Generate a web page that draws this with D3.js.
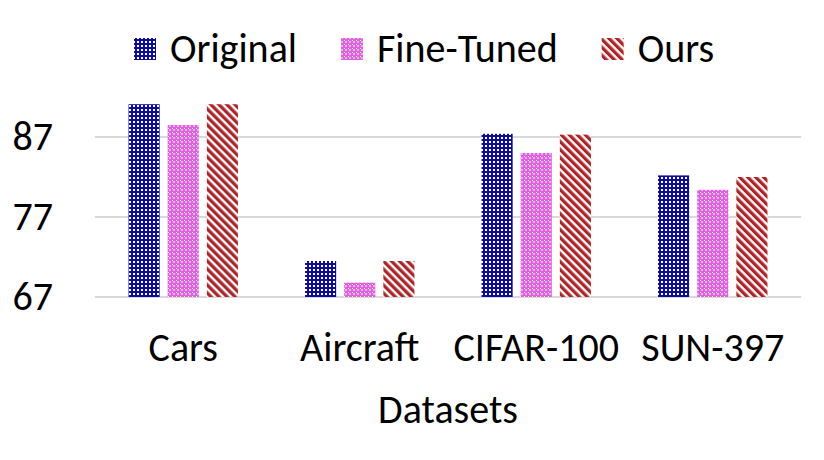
<!DOCTYPE html>
<html>
<head>
<meta charset="utf-8">
<script src="https://cdn.jsdelivr.net/npm/d3@7"></script>
<style>
  html, body { margin: 0; padding: 0; background: #fff; }
  text { font-family: Calibri, Carlito, 'Open Sans', sans-serif; fill: #000; }
</style>
</head>
<body>
<div id="vis"></div>
<script>
(function () {
  'use strict';

  var CATEGORIES = ['Cars', 'Aircraft', 'CIFAR-100', 'SUN-397'];
  var SERIES = ['Original', 'Fine-Tuned', 'Ours'];
  var ORIGINAL = [91.1, 71.5, 87.4, 82.2];
  var FINE_TUNED = [88.5, 68.8, 85.0, 80.4];
  var OURS = [91.1, 71.5, 87.3, 82.0];
  var Y_TICKS = [67, 77, 87];
  var X_TITLE = 'Datasets';

  var WIDTH = 824;
  var HEIGHT = 460;
  var FONT = 40;
  var margin = { top: 97, right: 23, bottom: 163, left: 95 };

  var svg = d3.select('#vis').append('svg')
    .attr('width', WIDTH)
    .attr('height', HEIGHT);

  // fill patterns, roughly the excel ones
  var defs = svg.append('defs');
  var pOrig = defs.append('pattern')
    .attr('id', 'p-orig')
    .attr('patternUnits', 'userSpaceOnUse')
    .attr('width', 4).attr('height', 4);
  pOrig.append('rect').attr('width', 4).attr('height', 4).attr('fill', '#0c0ca0');
  pOrig.append('rect').attr('x', 1).attr('y', 1).attr('width', 2).attr('height', 2).attr('fill', '#fff');

  var pFine = defs.append('pattern')
    .attr('id', 'p-fine')
    .attr('patternUnits', 'userSpaceOnUse')
    .attr('width', 4).attr('height', 4);
  pFine.append('rect').attr('width', 4).attr('height', 4).attr('fill', '#de62de');
  pFine.append('rect').attr('x', 1).attr('y', 1).attr('width', 2).attr('height', 2).attr('fill', '#f0a8f0');
  pFine.append('rect').attr('x', 0).attr('y', 0).attr('width', 1).attr('height', 1).attr('fill', '#fff');

  var pOurs = defs.append('pattern')
    .attr('id', 'p-ours')
    .attr('patternUnits', 'userSpaceOnUse')
    .attr('width', 5.66).attr('height', 10)
    .attr('patternTransform', 'rotate(-45)');
  pOurs.append('rect').attr('width', 5.66).attr('height', 10).attr('fill', '#fff');
  pOurs.append('rect').attr('width', 3.3).attr('height', 10).attr('fill', '#b02428');

  var FILLS = ['url(#p-orig)', 'url(#p-fine)', 'url(#p-ours)'];
  var VALUES = [ORIGINAL, FINE_TUNED, OURS];

  var x = d3.scaleBand()
    .domain(CATEGORIES)
    .range([margin.left, WIDTH - margin.right]);
  var xs = d3.scaleBand()
    .domain(SERIES)
    .range([x.bandwidth() * 0.19, x.bandwidth() * 0.81])
    .paddingInner(0.205);
  var y = d3.scaleLinear()
    .domain([67, 92])
    .range([HEIGHT - margin.bottom, margin.top]);

  // gridlines
  svg.append('g').selectAll('line')
    .data(Y_TICKS)
    .enter().append('line')
    .attr('x1', margin.left)
    .attr('x2', WIDTH - margin.right)
    .attr('y1', function (d) { return y(d); })
    .attr('y2', function (d) { return y(d); })
    .attr('stroke', '#d9d9d9')
    .attr('stroke-width', 2);

  // y axis, labels only
  var yAxis = d3.axisLeft(y).tickValues(Y_TICKS).tickSize(0).tickPadding(0);
  var gy = svg.append('g')
    .attr('transform', 'translate(53,0)')
    .call(yAxis);
  gy.select('.domain').remove();
  gy.selectAll('text')
    .attr('font-size', FONT)
    .attr('dy', '0.3em')
    .style('font-family', null);

  // bars
  var rows = [];
  CATEGORIES.forEach(function (c, i) {
    SERIES.forEach(function (s, j) {
      rows.push({ cat: c, series: s, value: VALUES[j][i], fill: FILLS[j] });
    });
  });
  svg.append('g').selectAll('rect')
    .data(rows)
    .enter().append('rect')
    .attr('x', function (d) { return x(d.cat) + xs(d.series); })
    .attr('width', xs.bandwidth())
    .attr('y', function (d) { return y(d.value); })
    .attr('height', function (d) { return y(67) - y(d.value); })
    .attr('fill', function (d) { return d.fill; });

  // category labels
  var xAxis = d3.axisBottom(x).tickSize(0).tickPadding(0);
  var gx = svg.append('g')
    .attr('transform', 'translate(0,' + y(67) + ')')
    .call(xAxis);
  gx.select('.domain').remove();
  gx.selectAll('text')
    .attr('font-size', FONT)
    .attr('dy', null)
    .attr('y', 64)
    .style('font-family', null);

  svg.append('text')
    .attr('x', (margin.left + WIDTH - margin.right) / 2)
    .attr('y', 423)
    .attr('text-anchor', 'middle')
    .attr('font-size', FONT)
    .text(X_TITLE);

  // legend, laid out left to right
  var lx = 134;
  SERIES.forEach(function (s, j) {
    svg.append('rect')
      .attr('x', lx).attr('y', 38)
      .attr('width', 22).attr('height', 22)
      .attr('fill', FILLS[j]);
    var t = svg.append('text')
      .attr('x', lx + 36)
      .attr('y', 62)
      .attr('font-size', FONT)
      .text(s);
    lx += 36 + t.node().getComputedTextLength() + 44;
  });
})();
</script>
</body>
</html>
